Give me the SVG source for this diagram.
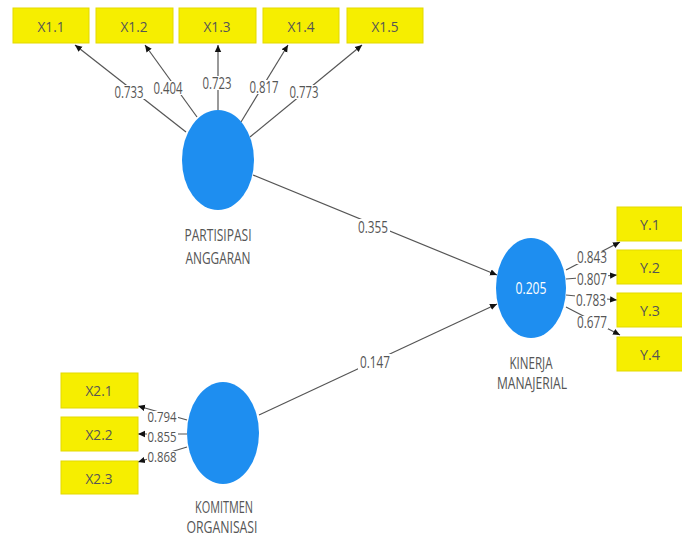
<svg xmlns="http://www.w3.org/2000/svg" width="682" height="537" viewBox="0 0 682 537">
<style>
.box{fill:#f6ee00;stroke:#e3d900;stroke-width:1}
.bt{font-family:"Open Sans","Liberation Sans",sans-serif;font-size:15px;fill:#555;text-anchor:middle;dominant-baseline:central}
.lv{fill:#1e8ef0}
.lt{font-family:"Open Sans","Liberation Sans",sans-serif;font-size:16px;fill:#555;text-anchor:middle;dominant-baseline:central}
.num{font-family:"Open Sans","Liberation Sans",sans-serif;font-size:16px;fill:#555;text-anchor:middle;dominant-baseline:central}
.sm{font-size:14px}
.bg{fill:#fff}
.c{stroke:#555;stroke-width:1.2;fill:none;marker-end:url(#ah)}
</style>
<defs>
<marker id="ah" markerWidth="8" markerHeight="8" refX="7" refY="4" orient="auto" markerUnits="userSpaceOnUse">
<path d="M0,0.8 L7,4 L0,7.2 Z" fill="#111"/>
</marker>
</defs>
<rect width="682" height="537" fill="#fff"/>

<g id="connectors">
<line class="c" x1="186" y1="132" x2="75" y2="45"/>
<line class="c" x1="197" y1="117" x2="145" y2="45"/>
<line class="c" x1="218" y1="110" x2="218" y2="45"/>
<line class="c" x1="241" y1="122" x2="288" y2="45"/>
<line class="c" x1="250" y1="137" x2="362" y2="45"/>
<line class="c" x1="566" y1="270" x2="620" y2="242"/>
<line class="c" x1="566" y1="279" x2="617" y2="275"/>
<line class="c" x1="566" y1="295" x2="617" y2="300"/>
<line class="c" x1="566" y1="307" x2="620" y2="335"/>
<line class="c" x1="187" y1="420" x2="138" y2="406"/>
<line class="c" x1="187" y1="434" x2="138" y2="434"/>
<line class="c" x1="187" y1="447" x2="138" y2="462"/>
<line class="c" x1="253" y1="175" x2="497" y2="275"/>
<line class="c" x1="259" y1="415" x2="497" y2="304"/>
<rect class="bg" x="114" y="85" width="31" height="14"/>
<rect class="bg" x="153" y="81" width="31" height="14"/>
<rect class="bg" x="202" y="76" width="31" height="14"/>
<rect class="bg" x="249" y="80" width="31" height="14"/>
<rect class="bg" x="289" y="85" width="31" height="14"/>
<rect class="bg" x="576" y="251" width="32" height="13"/>
<rect class="bg" x="576" y="273" width="32" height="12"/>
<rect class="bg" x="575" y="294" width="32" height="12"/>
<rect class="bg" x="576" y="316" width="32" height="13"/>
<rect class="bg" x="147" y="411" width="31" height="11"/>
<rect class="bg" x="147" y="431" width="31" height="11"/>
<rect class="bg" x="147" y="451" width="31" height="11"/>
<rect class="bg" x="356" y="219" width="34" height="16"/>
<rect class="bg" x="358" y="354" width="34" height="16"/>
<text class="num" x="129" y="92" textLength="29" lengthAdjust="spacingAndGlyphs">0.733</text>
<text class="num" x="168" y="88" textLength="29" lengthAdjust="spacingAndGlyphs">0.404</text>
<text class="num" x="217" y="83" textLength="29" lengthAdjust="spacingAndGlyphs">0.723</text>
<text class="num" x="264" y="87" textLength="29" lengthAdjust="spacingAndGlyphs">0.817</text>
<text class="num" x="304" y="92" textLength="29" lengthAdjust="spacingAndGlyphs">0.773</text>
<text class="num" x="592" y="257" textLength="30" lengthAdjust="spacingAndGlyphs">0.843</text>
<text class="num" x="592" y="279" textLength="30" lengthAdjust="spacingAndGlyphs">0.807</text>
<text class="num" x="591" y="300" textLength="30" lengthAdjust="spacingAndGlyphs">0.783</text>
<text class="num" x="592" y="322" textLength="30" lengthAdjust="spacingAndGlyphs">0.677</text>
<text class="num sm" x="162" y="416" textLength="29" lengthAdjust="spacingAndGlyphs">0.794</text>
<text class="num sm" x="162" y="436" textLength="29" lengthAdjust="spacingAndGlyphs">0.855</text>
<text class="num sm" x="162" y="456" textLength="29" lengthAdjust="spacingAndGlyphs">0.868</text>
<text class="num" x="373" y="227" textLength="30" lengthAdjust="spacingAndGlyphs">0.355</text>
<text class="num" x="375" y="362" textLength="30" lengthAdjust="spacingAndGlyphs">0.147</text>
</g>

<g id="X1.1"><rect class="box" x="13" y="8" width="76" height="35"/><text class="bt" x="51" y="26" textLength="27" lengthAdjust="spacingAndGlyphs">X1.1</text></g>
<g id="X1.2"><rect class="box" x="96" y="8" width="77" height="35"/><text class="bt" x="134" y="26" textLength="27" lengthAdjust="spacingAndGlyphs">X1.2</text></g>
<g id="X1.3"><rect class="box" x="179" y="8" width="77" height="35"/><text class="bt" x="217" y="26" textLength="27" lengthAdjust="spacingAndGlyphs">X1.3</text></g>
<g id="X1.4"><rect class="box" x="263" y="8" width="76" height="35"/><text class="bt" x="301" y="26" textLength="27" lengthAdjust="spacingAndGlyphs">X1.4</text></g>
<g id="X1.5"><rect class="box" x="347" y="8" width="76" height="35"/><text class="bt" x="385" y="26" textLength="27" lengthAdjust="spacingAndGlyphs">X1.5</text></g>

<g id="Y.1"><rect class="box" x="617" y="207" width="66" height="34"/><text class="bt" x="650" y="224" textLength="20" lengthAdjust="spacingAndGlyphs">Y.1</text></g>
<g id="Y.2"><rect class="box" x="617" y="250" width="66" height="34"/><text class="bt" x="650" y="267" textLength="20" lengthAdjust="spacingAndGlyphs">Y.2</text></g>
<g id="Y.3"><rect class="box" x="617" y="293" width="66" height="34"/><text class="bt" x="650" y="310" textLength="20" lengthAdjust="spacingAndGlyphs">Y.3</text></g>
<g id="Y.4"><rect class="box" x="617" y="337" width="66" height="34"/><text class="bt" x="650" y="354" textLength="20" lengthAdjust="spacingAndGlyphs">Y.4</text></g>

<g id="X2.1"><rect class="box" x="61" y="373" width="77" height="35"/><text class="bt" x="99" y="390" textLength="27" lengthAdjust="spacingAndGlyphs">X2.1</text></g>
<g id="X2.2"><rect class="box" x="61" y="417" width="77" height="34"/><text class="bt" x="99" y="434" textLength="27" lengthAdjust="spacingAndGlyphs">X2.2</text></g>
<g id="X2.3"><rect class="box" x="61" y="461" width="77" height="33"/><text class="bt" x="99" y="478" textLength="27" lengthAdjust="spacingAndGlyphs">X2.3</text></g>

<g id="PARTISIPASI_ANGGARAN">
<ellipse class="lv" cx="218" cy="160" rx="36" ry="50"/>
<text class="lt" x="218" y="235" textLength="67" lengthAdjust="spacingAndGlyphs">PARTISIPASI</text>
<text class="lt" x="218" y="258" textLength="65" lengthAdjust="spacingAndGlyphs">ANGGARAN</text>
</g>
<g id="KINERJA_MANAJERIAL">
<ellipse class="lv" cx="531" cy="288" rx="35" ry="50"/>
<text class="lt" x="531" y="288" style="fill:#fff" textLength="31" lengthAdjust="spacingAndGlyphs">0.205</text>
<text class="lt" x="531" y="363" textLength="43" lengthAdjust="spacingAndGlyphs">KINERJA</text>
<text class="lt" x="532" y="383" textLength="70" lengthAdjust="spacingAndGlyphs">MANAJERIAL</text>
</g>
<g id="KOMITMEN_ORGANISASI">
<ellipse class="lv" cx="223" cy="433" rx="36" ry="51"/>
<text class="lt" x="224" y="507" textLength="58" lengthAdjust="spacingAndGlyphs">KOMITMEN</text>
<text class="lt" x="222" y="527" textLength="71" lengthAdjust="spacingAndGlyphs">ORGANISASI</text>
</g>
</svg>
